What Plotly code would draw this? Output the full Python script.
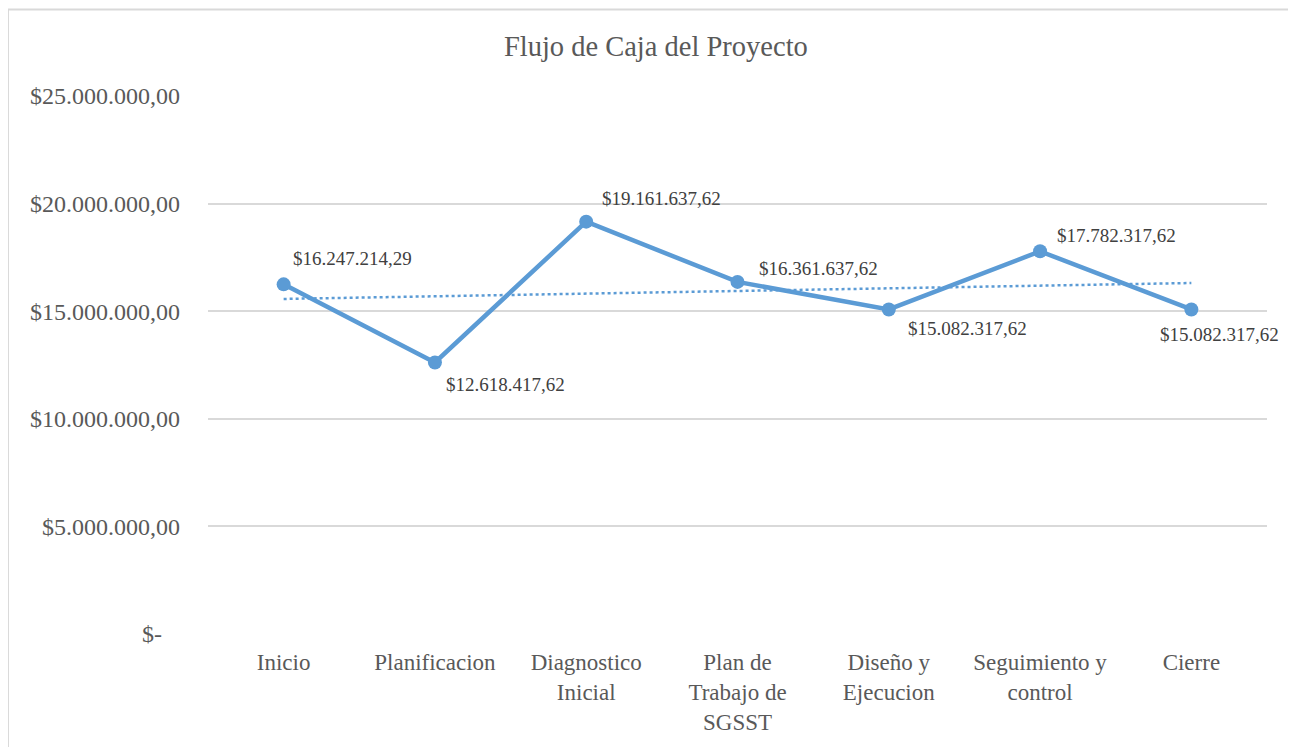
import plotly.graph_objects as go

categories = ["Inicio", "Planificacion", "Diagnostico<br>Inicial", "Plan de<br>Trabajo de<br>SGSST",
              "Diseño y<br>Ejecucion", "Seguimiento y<br>control", "Cierre"]
values = [16247214.29, 12618417.62, 19161637.62, 16361637.62, 15082317.62, 17782317.62, 15082317.62]
labels = ["$16.247.214,29", "$12.618.417,62", "$19.161.637,62", "$16.361.637,62",
          "$15.082.317,62", "$17.782.317,62", "$15.082.317,62"]
trend_x = [categories[0], categories[-1]]
trend_values = [15570000, 16310000]
tick_vals = [0, 5000000, 10000000, 15000000, 20000000, 25000000]
tick_text = ["$-\u00a0\u00a0\u00a0", "$5.000.000,00", "$10.000.000,00", "$15.000.000,00",
             "$20.000.000,00", "$25.000.000,00"]

# label offsets (px) relative to each point
label_dx = [7, 9, 14, 19, 17, 15, -33]
label_dy = [26, -22, 23, 13, -19, 16, -25]

SERIF = "Liberation Serif"
BLUE = "#5B9BD5"

fig = go.Figure()
fig.add_trace(go.Scatter(x=categories, y=values, mode="lines+markers",
                         line=dict(color=BLUE, width=4.5),
                         marker=dict(color=BLUE, size=14),
                         showlegend=False))
fig.add_trace(go.Scatter(x=trend_x, y=trend_values, mode="lines",
                         line=dict(color=BLUE, width=2.5, dash="dot"),
                         hoverinfo="skip", showlegend=False))

for c, v, t, dx, dy in zip(categories, values, labels, label_dx, label_dy):
    fig.add_annotation(x=c, y=v, text=t, showarrow=False, xanchor="left", yanchor="middle",
                       xshift=dx, yshift=dy, font=dict(family=SERIF, size=19, color="#404040"))

fig.add_shape(type="rect", xref="paper", yref="paper", x0=-0.1889, x1=1.0264, y0=-0.3, y1=1.1608,
              line=dict(color="#D9D9D9", width=2), layer="below")

fig.update_layout(
    width=1288, height=739,
    margin=dict(l=200, r=29, t=88, b=106),
    paper_bgcolor="white", plot_bgcolor="white",
    title=dict(text="Flujo de Caja del Proyecto", x=0.503, xanchor="center", y=0.948, yanchor="middle",
               font=dict(family=SERIF, size=28.5, color="#595959")),
    xaxis=dict(type="category", categoryorder="array", categoryarray=categories, range=[-0.5, 6.5],
               showgrid=False, showline=False, zeroline=False,
               ticks="", tickfont=dict(family=SERIF, size=23, color="#595959"), ticklabelstandoff=12),
    yaxis=dict(range=[0, 25000000], tickvals=tick_vals, ticktext=tick_text, showgrid=True,
               gridcolor="#D9D9D9", gridwidth=1.5, zeroline=False, showline=False, ticks="",
               tickfont=dict(family=SERIF, size=24, color="#595959"), ticklabelstandoff=27),
    font=dict(family=SERIF),
)
fig.write_html("out.html")
